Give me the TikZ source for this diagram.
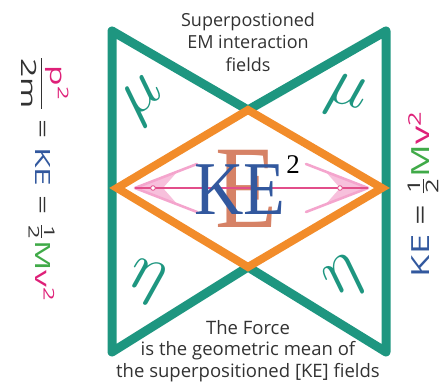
\documentclass[tikz,border=0pt]{standalone}
\usepackage{fix-cm}
\usepackage{amsmath}
\usepackage{graphicx}
\usepackage{fontspec}
\setmainfont{Open Sans}
\newfontfamily\serifkefont{Liberation Serif}
\usetikzlibrary{arrows.meta}

\definecolor{fieldteal}{RGB}{30,150,128}
\definecolor{keorange}{RGB}{242,140,42}
\definecolor{keblue}{RGB}{50,88,158}
\definecolor{esalmon}{RGB}{214,130,102}
\definecolor{arrowpink}{RGB}{244,165,205}
\definecolor{arrowred}{RGB}{226,78,138}
\definecolor{mgreen}{RGB}{64,170,72}
\definecolor{pmagenta}{RGB}{222,32,120}
\definecolor{textgrey}{RGB}{50,50,50}

\tikzset{
    caption/.style={text=textgrey,align=center},
    greek/.style={text=fieldteal,font=\fontsize{68}{68}\selectfont},
    sideeq/.style={text=textgrey,inner sep=0pt},
    arrowarm/.style={arrowpink,line width=2.6pt,line cap=round},
}

\begin{document}
\begin{tikzpicture}[x=1pt,y=-1pt]

    % パラメータの定義
    \pgfmathsetmacro{\xl}{112}
    \pgfmathsetmacro{\xr}{386}
    \pgfmathsetmacro{\xc}{248}
    \pgfmathsetmacro{\yt}{31}
    \pgfmathsetmacro{\yb}{352}
    \pgfmathsetmacro{\ym}{188}

    \useasboundingbox (0,0) rectangle (445,390);

    \coordinate (TL) at (\xl,\yt);
    \coordinate (TR) at (\xr,\yt);
    \coordinate (BL) at (\xl,\yb);
    \coordinate (BR) at (\xr,\yb);
    \coordinate (T) at (\xc,110);
    \coordinate (B) at (\xc,267);
    \coordinate (L) at (117,\ym);
    \coordinate (R) at (382,\ym);

    % 砂時計形の枠
    \draw[fieldteal,line width=9pt,line join=round]
        (TL) -- (T) -- (TR) -- (BR) -- (B) -- (BL) -- cycle;

    % ギリシャ文字
    \node[greek,rotate=40] (muTL) at (145,100) {$\mu$};
    \node[greek,rotate=-15] (muTR) at (346,97) {$\mu$};
    \node[greek,rotate=-15] (etaBL) at (147,282) {$\eta$};
    \node[greek,rotate=40] (etaBR) at (346,279) {$\eta$};

    % 背景の E
    \node[text=esalmon,font=\serifkefont\fontsize{118}{118}\selectfont,
          xscale=0.86,anchor=base,inner sep=0pt] (bigE) at (246,228) {E};

    % 矢印の描画
    \coordinate (la) at (135,\ym);
    \coordinate (ra) at (368,\ym);
    \fill[arrowpink,opacity=0.7] (la) -- (178,171) -- (163,\ym) -- (178,205) -- cycle;
    \fill[arrowpink,opacity=0.7] (ra) -- (325,171) -- (340,\ym) -- (325,205) -- cycle;
    \draw[arrowarm] (la) -- (197,164);
    \draw[arrowarm] (la) -- (197,212);
    \draw[arrowarm] (ra) -- (306,164);
    \draw[arrowarm] (ra) -- (306,212);
    \draw[arrowred,line width=2.4pt] (la) -- (ra);
    \draw[arrowred,fill=white,line width=0.8pt] (153,\ym) circle (2.3);
    \draw[arrowred,fill=white,line width=0.8pt] (340,\ym) circle (2.3);

    % KE^2
    \node[text=keblue,font=\serifkefont\fontsize{76}{76}\selectfont,
          xscale=0.9,anchor=base,inner sep=0pt] (ke) at (240,215) {KE};
    \node[text=black,font=\serifkefont\fontsize{27}{27}\selectfont,inner sep=0pt] (sq) at (293,165) {2};

    % 菱形
    \draw[keorange,line width=8pt] (L) -- (T) -- (R) -- (B) -- cycle;

    % 文章
    \node[caption,font=\fontsize{18}{22.5}\selectfont] (toptext) at (\xc,42)
        {Superpostioned\\EM interaction\\fields};
    \node[caption,font=\fontsize{18.5}{21.5}\selectfont] (bottomtext) at (\xc,351)
        {The Force\\is the geometric mean of\\the superpositioned [KE] fields};

    % 左右の式
    \node[sideeq,rotate=-90,font=\fontsize{21}{21}\selectfont] (lefteq) at (45,179)
        {\scalebox{1.6}[1]{$\dfrac{\text{\textcolor{pmagenta}{p}\textsuperscript{\textcolor{pmagenta}{2}}}}{\text{2m}}$
        = \textcolor{keblue}{KE} = $\tfrac{\text{1}}{\text{2}}$\textcolor{mgreen}{M}\textcolor{pmagenta}{v\textsuperscript{2}}}};
    \node[sideeq,rotate=90,font=\fontsize{25}{25}\selectfont] (righteq) at (423,194)
        {\scalebox{1.45}[1]{\textcolor{keblue}{KE} = $\tfrac{\text{1}}{\text{2}}$\textcolor{mgreen}{M}\textcolor{pmagenta}{v\textsuperscript{2}}}};

\end{tikzpicture}
\end{document}
